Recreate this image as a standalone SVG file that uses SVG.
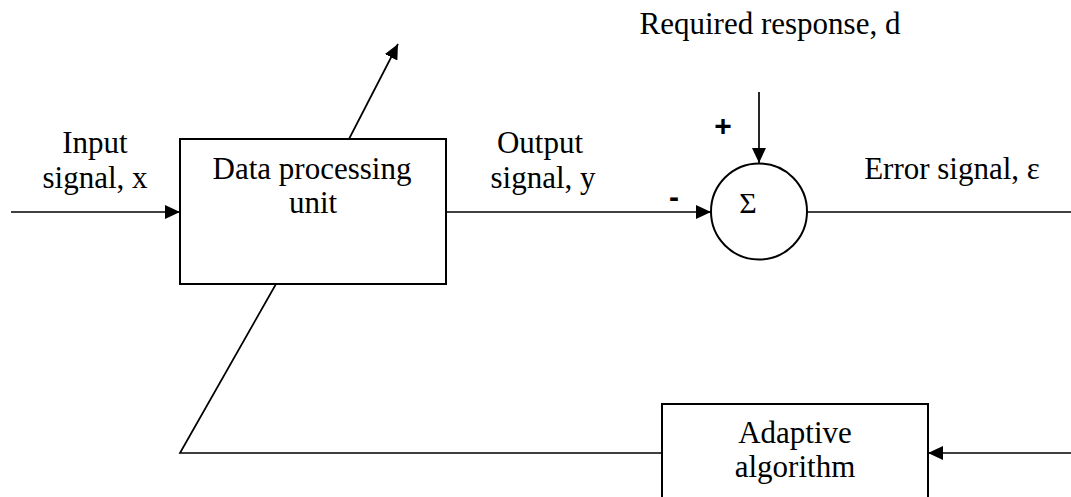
<svg xmlns="http://www.w3.org/2000/svg" width="1071" height="497" viewBox="0 0 1071 497">
  <style>
    .box { fill: #fff; stroke: #000; stroke-width: 2; }
    .ln { fill: none; stroke: #000; stroke-width: 1.7; }
    .t { font-family: "Liberation Serif", "Times New Roman", serif; font-size: 31px; fill: #000; text-anchor: middle; }
    .s { font-family: "Liberation Sans", Arial, sans-serif; font-weight: bold; font-size: 30px; fill: #000; text-anchor: middle; }
  </style>
  <defs>
    <marker id="arr" markerUnits="userSpaceOnUse" markerWidth="15" markerHeight="14" refX="15" refY="7" orient="auto">
      <path d="M0,0 L15,7 L0,14 z" fill="#000"/>
    </marker>
  </defs>
  <rect width="1071" height="497" fill="#fff"/>

  <g id="connectors">
    <line class="ln" x1="11" y1="212" x2="180" y2="212" marker-end="url(#arr)"/>
    <line class="ln" x1="446" y1="212" x2="711" y2="212" marker-end="url(#arr)"/>
    <line class="ln" x1="759" y1="92" x2="759" y2="163" marker-end="url(#arr)"/>
    <line class="ln" x1="807" y1="212" x2="1071" y2="212"/>
    <line class="ln" x1="1071" y1="453" x2="928" y2="453" marker-end="url(#arr)"/>
    <polyline class="ln" points="662,453 180,453 276,284"/>
    <line class="ln" x1="349" y1="139" x2="398" y2="44" marker-end="url(#arr)"/>
  </g>

  <g id="labels">
    <text class="t" x="95" y="153">Input</text>
    <text class="t" x="95" y="188">signal, x</text>
    <text class="t" x="540" y="153">Output</text>
    <text class="t" x="543" y="188">signal, y</text>
    <text class="t" x="770" y="34">Required response, d</text>
    <text class="t" x="952" y="179">Error signal, ε</text>
    <text class="s" x="723" y="136">+</text>
    <text class="s" x="674" y="207">-</text>
  </g>

  <g id="data-processing-unit">
    <rect class="box" x="180" y="139" width="266" height="145"/>
    <text class="t" x="312" y="179">Data processing</text>
    <text class="t" x="313" y="213">unit</text>
  </g>

  <g id="summer">
    <circle class="box" cx="759" cy="211.5" r="48"/>
    <text class="t" x="748" y="213" style="font-size:30px">Σ</text>
  </g>

  <g id="adaptive-algorithm">
    <rect class="box" x="662" y="404" width="266" height="100"/>
    <text class="t" x="795" y="443">Adaptive</text>
    <text class="t" x="795" y="477">algorithm</text>
  </g>
</svg>
